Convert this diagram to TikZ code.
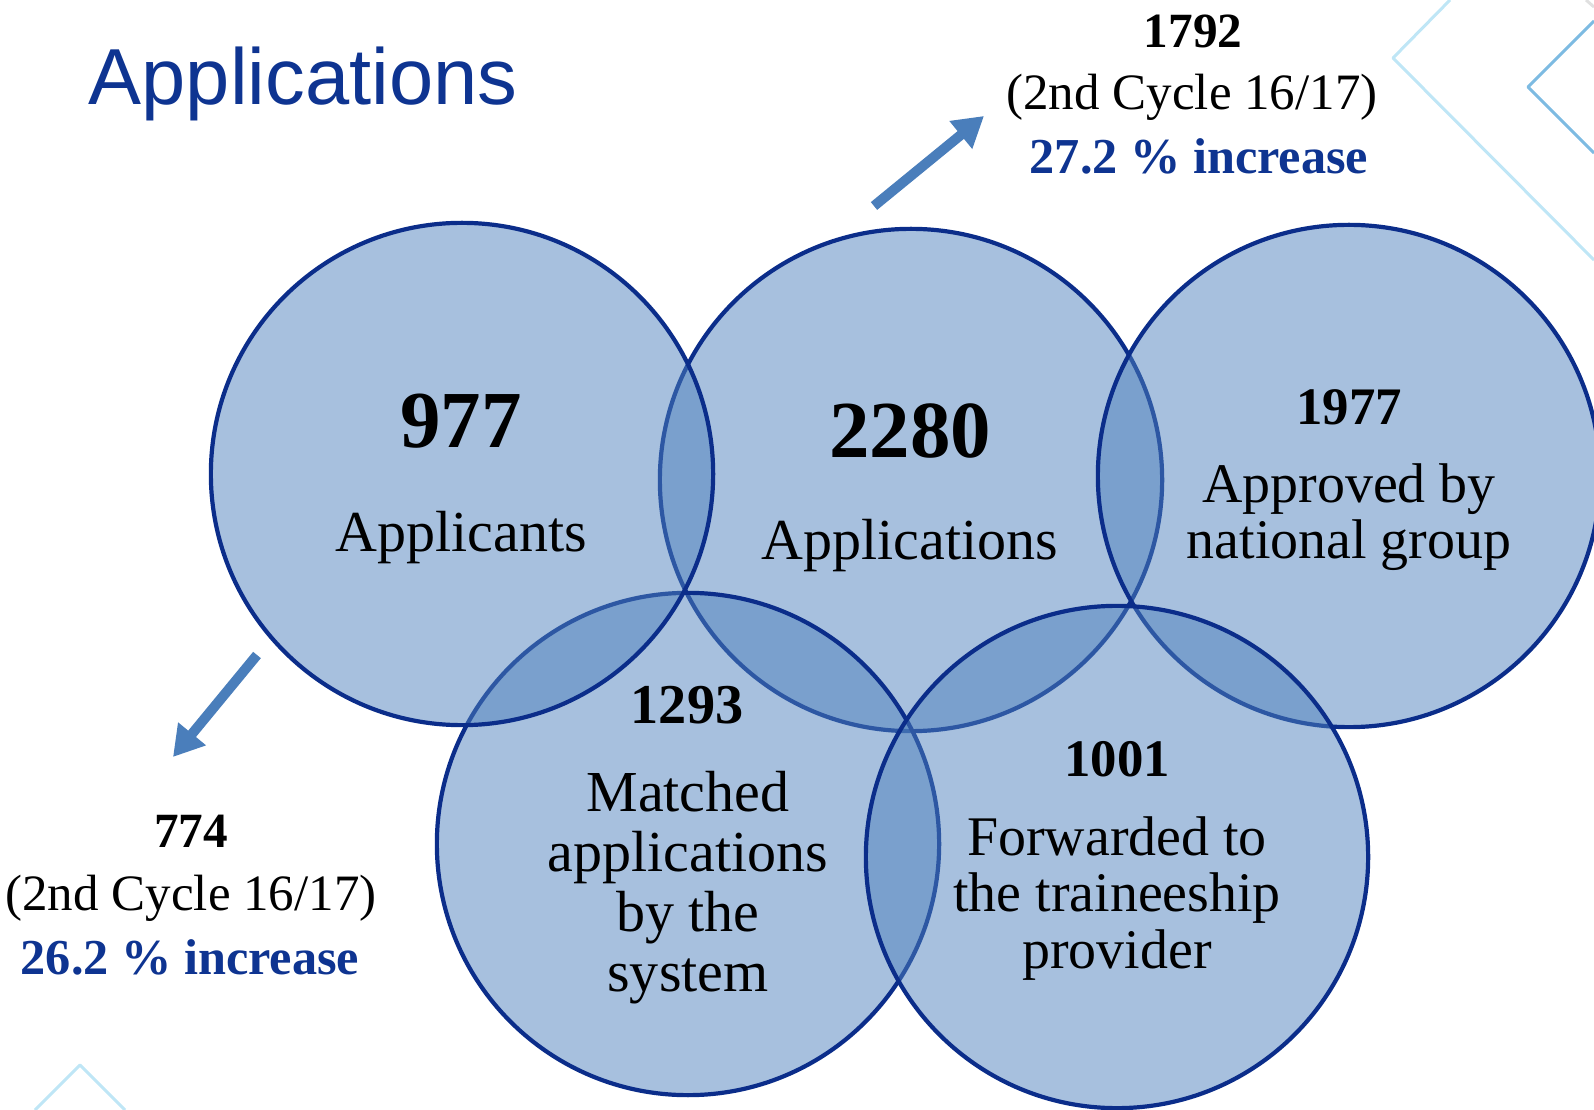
\documentclass[tikz,border=0pt]{standalone}
\usepackage{fontspec}
\setmainfont{Liberation Serif}
\newfontfamily\headfont{Liberation Sans}
\usetikzlibrary{arrows.meta}

\definecolor{vennfill}{HTML}{4F81BD}
\definecolor{venndraw}{HTML}{0B2D8A}
\definecolor{headblue}{HTML}{0E3491}
\definecolor{arrowblue}{HTML}{4A7EBB}
\definecolor{decolight}{HTML}{BFE6F6}
\definecolor{decodark}{HTML}{7DBBE2}

\tikzset{
  venn/.style={circle, minimum size=5.02cm, inner sep=0pt, fill=vennfill, fill opacity=.5,
    draw=venndraw, draw opacity=1, line width=0.042cm},
  bignum/.style={font=\fontsize{23}{26}\selectfont\bfseries, anchor=base},
  num/.style={font=\fontsize{15}{17}\selectfont\bfseries, anchor=base},
  vtext/.style={font=\fontsize{16.5}{17}\selectfont, align=center, anchor=base},
  cycle/.style={font=\fontsize{14.5}{17}\selectfont, anchor=base},
  rise/.style={font=\fontsize{14.3}{17}\selectfont\bfseries, text=headblue, anchor=base},
  growth/.style={arrowblue, line width=0.1cm, -{Triangle[length=0.3cm,width=0.34cm]}},
  deco/.style={line width=0.03cm, line join=round}
}

\begin{document}
\begin{tikzpicture}[x=0.01cm, y=-0.01cm]

	\useasboundingbox (0,0) rectangle (1594,1110);
	\clip (0,0) rectangle (1594,1110);

	% corner marks
	\draw[deco, decolight] (1450,0) -- (1393,58) -- (1594,260);
	\draw[deco, decodark] (1594,21) -- (1528,87) -- (1594,153);
	\draw[deco, black!12] (1586,0) -- (1594,7);
	\draw[deco, decolight] (35,1110) -- (80,1065) -- (125,1110);

	\node[anchor=base west, inner sep=0pt, text=headblue, font=\headfont\fontsize{22.6}{26}\selectfont]
		(title) at (88,105) {Applications};

	% circles
	\node[venn] (capps) at (911,480) {};
	\node[venn] (cmatch) at (688,844) {};
	\node[venn] (cappl) at (462,474) {};
	\node[venn] (capprov) at (1349,476) {};
	\node[venn] (cfwd) at (1117,857) {};

	\node[bignum] (nappl) at (461,448) {977};
	\node[vtext] (tappl) at (461,552) {Applicants};
	\node[bignum] (napps) at (910,458) {2280};
	\node[vtext] (tapps) at (910,560) {Applications};
	\node[num] (napprov) at (1349,425) {1977};
	\node[vtext, font=\fontsize{15.9}{16}\selectfont] (tapprov) at (1349,559) {Approved by\\national group};
	\node[num, font=\fontsize{16}{17}\selectfont\bfseries] (nmatch) at (687,724) {1293};
	\node[vtext] (tmatch) at (688,991) {Matched\\applications\\by the\\system};
	\node[num] (nfwd) at (1117,777) {1001};
	\node[vtext, font=\fontsize{15.9}{16}\selectfont] (tfwd) at (1117,968) {Forwarded to\\the traineeship\\provider};

	% previous cycle
	\node[num, font=\fontsize{14}{17}\selectfont\bfseries] (prevapps) at (1193,48) {1792};
	\node[cycle] (cycapps) at (1192,110) {(2nd Cycle 16/17)};
	\node[rise] (riseapps) at (1199,174) {27.2 \% increase};
	\node[num, font=\fontsize{14}{17}\selectfont\bfseries] (prevappl) at (191,847) {774};
	\node[cycle] (cycappl) at (191,910) {(2nd Cycle 16/17)};
	\node[rise] (riseappl) at (190,974) {26.2 \% increase};

	\coordinate (upfrom) at (874,206);
	\coordinate (upto) at (984,116);
	\coordinate (downfrom) at (257,655);
	\coordinate (downto) at (173,757);
	\draw[growth] (upfrom) -- (upto);
	\draw[growth] (downfrom) -- (downto);

\end{tikzpicture}
\end{document}
